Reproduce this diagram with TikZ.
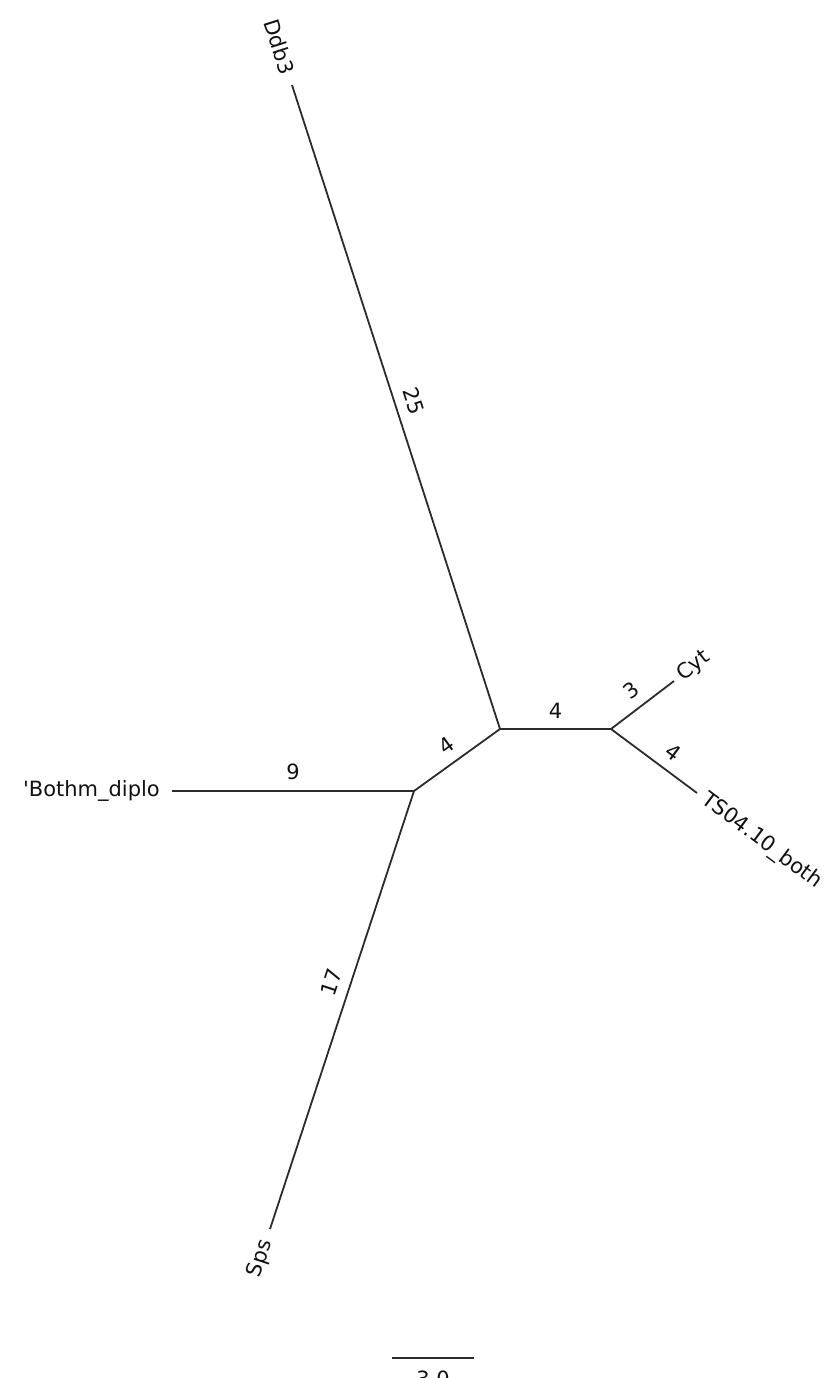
\documentclass[tikz,border=0pt]{standalone}
\usepackage{fontspec}
\setsansfont{DejaVu Sans}
\usepackage{tikz}
\usetikzlibrary{positioning}
\definecolor{treeline}{HTML}{2B2B2B}
\definecolor{taxontext}{HTML}{111111}

\begin{document}
\begin{tikzpicture}[x=1pt, y=-1pt, font=\sffamily\fontsize{21}{25}\selectfont,
  branch/.style={draw=treeline, line width=1.8pt},
  taxon/.style={text=taxontext, inner sep=12pt},
  weight/.style={text=taxontext, midway, sloped, inner sep=10pt}]
  \useasboundingbox (0,0) rectangle (829,1378);

  \coordinate (ab) at (500,729);
  \coordinate (bb) at (414,791);
  \coordinate (cc) at (611,729);
  \coordinate (ddb3) at (292,85);
  \coordinate (bothm) at (172,791);
  \coordinate (sps) at (270,1229);
  \coordinate (cyt) at (674,681);
  \coordinate (ts04) at (697,793);

  \draw[branch] (ab) -- node[weight, above] {25} (ddb3);
  \draw[branch] (bb) -- node[weight, above] {9} (bothm);
  \draw[branch] (bb) -- node[weight, above, pos=0.45] {17} (sps);
  \draw[branch] (bb) -- node[weight, above] {4} (ab);
  \draw[branch] (ab) -- node[weight, above] {4} (cc);
  \draw[branch] (cc) -- node[weight, above] {3} (cyt);
  \draw[branch] (cc) -- node[weight, above, pos=0.6] {4} (ts04);

  \node[taxon, anchor=east, rotate=-72.1] (ddb3lab) at (ddb3) {Ddb3};
  \node[taxon, anchor=east] (bothmlab) at (bothm) {\textquotesingle Bothm\_diplo};
  \node[taxon, anchor=east, rotate=71.9] (spslab) at (sps) {Sps};
  \node[taxon, anchor=west, rotate=37.3, inner sep=7pt] (cytlab) at (cyt) {Cyt};
  \node[taxon, anchor=west, rotate=-36.7, inner sep=8pt] (ts04lab) at (ts04) {TS04.10\_both};

  \coordinate (scaleleft) at (392,1358);
  \coordinate (scaleright) at (474,1358);
  \draw[branch] (scaleleft) -- node[below, text=taxontext, inner sep=12pt] (scalelab) {3.0} (scaleright);
\end{tikzpicture}
\end{document}
